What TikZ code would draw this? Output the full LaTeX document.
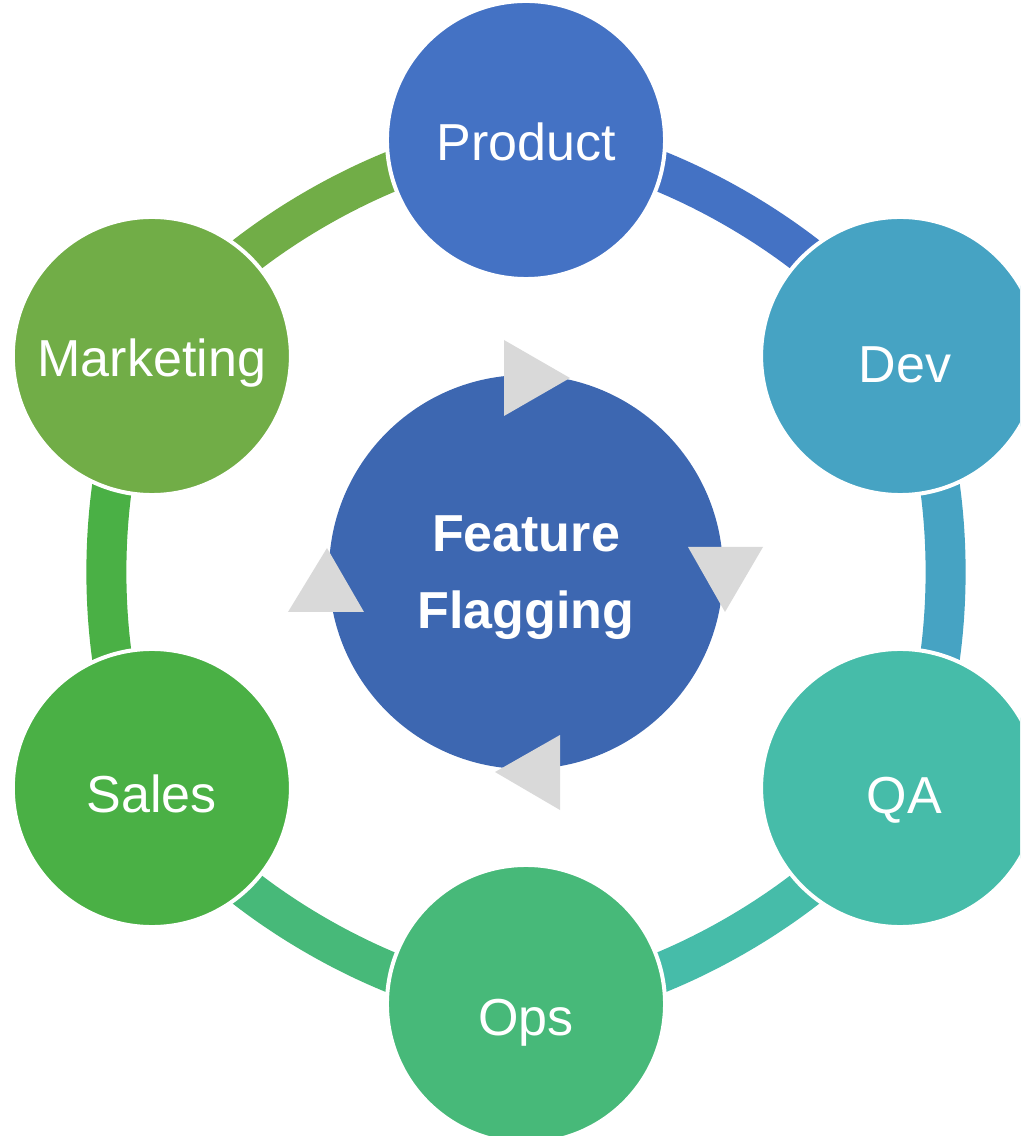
\documentclass[tikz,border=0pt]{standalone}
\usepackage{fontspec}
\setmainfont{Liberation Sans}
\usetikzlibrary{backgrounds}
\definecolor{prodblue}{HTML}{4472C4}
\definecolor{devteal}{HTML}{46A3C3}
\definecolor{qateal}{HTML}{46BCA9}
\definecolor{opsgreen}{HTML}{47B979}
\definecolor{salesgreen}{HTML}{4AB045}
\definecolor{mktgreen}{HTML}{71AD47}
\definecolor{centblue}{HTML}{3D67B1}
\definecolor{tipgray}{HTML}{D9D9D9}
\begin{document}
\begin{tikzpicture}[x=0.025cm,y=0.025cm,
	petal/.style={circle, draw=white, line width=0.1cm, minimum size=6.95cm, inner sep=0pt},
	petaltext/.style={text=white, font=\fontsize{37}{45}\selectfont, text height=26.6pt, text depth=0pt},
	band/.style={line width=1cm},
	tip/.style={fill=tipgray}]
	\useasboundingbox (-526,-564) rectangle (494,572);
	\clip (-526,-564) rectangle (494,572);
	% the six teams on the ring
	\node[petal, fill=prodblue, label={[petaltext,yshift=-1.5pt]center:Product}] (product) at (90:432) {};
	\node[petal, fill=devteal, label={[petaltext,xshift=3.5pt,yshift=-5.5pt]center:Dev}] (dev) at (30:432) {};
	\node[petal, fill=qateal, label={[petaltext,xshift=3pt,yshift=-5pt]center:QA}] (qa) at (-30:432) {};
	\node[petal, fill=opsgreen, label={[petaltext,yshift=-9pt]center:Ops}] (ops) at (-90:432) {};
	\node[petal, fill=salesgreen, label={[petaltext,yshift=-4pt]center:Sales}] (sales) at (210:432) {};
	\node[petal, fill=mktgreen, label={[petaltext,yshift=-1.5pt]center:Marketing}] (marketing) at (150:432) {};
	% hub
	\node[circle, fill=centblue, minimum size=9.85cm, inner sep=0pt, text=white, align=center,
		text depth=0pt, font=\fontsize{37}{55.3}\selectfont\bfseries] (flag) at (0,0) {Feature\\Flagging};
	\begin{scope}[on background layer]
	\draw[band, prodblue] (product.center) to[bend left=30, looseness=0.72] (dev.center);
	\draw[band, devteal] (dev.center) to[bend left=30, looseness=0.72] (qa.center);
	\draw[band, qateal] (qa.center) to[bend left=30, looseness=0.72] (ops.center);
	\draw[band, opsgreen] (ops.center) to[bend left=30, looseness=0.72] (sales.center);
	\draw[band, salesgreen] (sales.center) to[bend left=30, looseness=0.72] (marketing.center);
	\draw[band, mktgreen] (marketing.center) to[bend left=30, looseness=0.72] (product.center);
	\end{scope}
	% arrow heads round the hub
	\fill[tip] (-22,232) -- (-22,156) -- (44,194) -- cycle;
	\fill[tip] (162,25) -- (237,25) -- (199,-40) -- cycle;
	\fill[tip] (34,-163) -- (34,-238) -- (-31,-200) -- cycle;
	\fill[tip] (-162,-40) -- (-238,-40) -- (-199,24) -- cycle;
\end{tikzpicture}
\end{document}
